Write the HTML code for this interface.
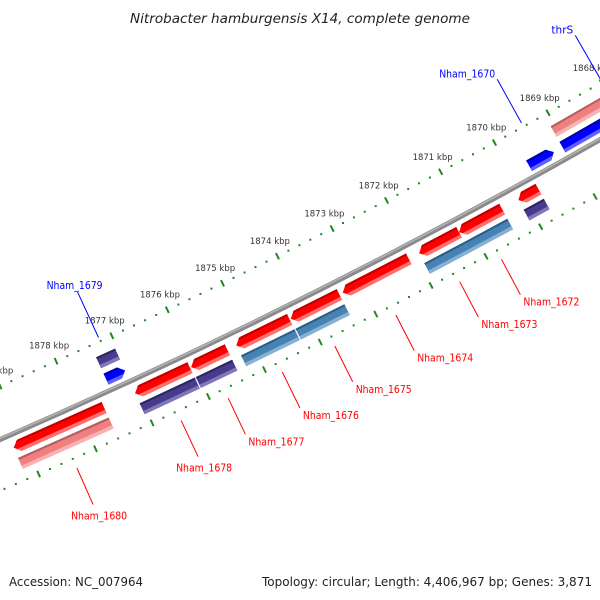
<!DOCTYPE html>
<html><head><meta charset="utf-8"><title>Nitrobacter hamburgensis X14 genome map</title>
<style>
html,body{margin:0;padding:0;background:#fff;}
svg{display:block;}
text{font-family:"DejaVu Sans","Liberation Sans",sans-serif;}
</style></head>
<body>
<svg id="map" xmlns="http://www.w3.org/2000/svg" width="600" height="600" viewBox="0 0 600 600">
<rect x="0" y="0" width="600" height="600" fill="#fff"/>
<text x="300" y="23" text-anchor="middle" font-size="13" font-style="italic" fill="#222" textLength="340" lengthAdjust="spacingAndGlyphs">Nitrobacter hamburgensis X14, complete genome</text>
<g id="plot"></g>
<text x="9" y="586" font-size="12.5" fill="#222" textLength="134" lengthAdjust="spacingAndGlyphs">Accession: NC_007964</text>
<text x="592" y="586" text-anchor="end" font-size="12.5" fill="#222" textLength="330" lengthAdjust="spacingAndGlyphs">Topology: circular; Length: 4,406,967 bp; Genes: 3,871</text>
</svg>
<script>
// ---- data (kbp) ----
const geneNames  = ["Nham_1680","Nham_1679","Nham_1678","Nham_1677","Nham_1676","Nham_1675","Nham_1674","Nham_1673","Nham_1672","Nham_1671","Nham_1670","thrS"];
const geneStart  = [1877.60,1877.04,1876.07,1875.40,1874.28,1873.38,1872.12,1871.20,1870.41,1869.74,1869.23,1866.90];
const geneEnd    = [1879.20,1877.38,1877.05,1876.05,1875.24,1874.26,1873.32,1871.93,1871.20,1870.11,1869.69,1869.07];
const geneStrand = [-1,1,-1,-1,-1,-1,-1,-1,-1,-1,1,1];
const geneCog    = ["pink","purple","purple","purple","steel","steel","none","steel","steel","purple","none","pink"];
const geneLabelStyle = ["below-center","above-center","below-center","below-left","below-left","below-left","below-left","below-left","below-left","none","above-end","above-end"];
const tickKbp    = [1866,1867,1868,1869,1870,1871,1872,1873,1874,1875,1876,1877,1878,1879,1880,1881];
const tickLabels = ["1866 kbp","1867 kbp","1868 kbp","1869 kbp","1870 kbp","1871 kbp","1872 kbp","1873 kbp","1874 kbp","1875 kbp","1876 kbp","1877 kbp","1878 kbp","1879 kbp","1880 kbp","1881 kbp"];

// ---- geometry ----
const CX=-2490, CY=-5293, R=6250;
const PHI0=61.23, DEG_PER_KBP=0.566, REF=1870;
function phi(k){return (PHI0+(k-REF)*DEG_PER_KBP)*Math.PI/180;}
function pt(k,r){const a=phi(k);return [CX+r*Math.cos(a),CY+r*Math.sin(a)];}
const COL={
  red:{d:"#c00000",m:"#ff0000",l:"#ff7070"},
  blue:{d:"#0000a8",m:"#0000ff",l:"#6060ff"},
  purple:{d:"#2c2462",m:"#473c8b",l:"#8077bb"},
  steel:{d:"#2d5c84",m:"#4682b4",l:"#86b0d4"},
  pink:{d:"#b45e5e",m:"#f08080",l:"#f7b2b2"}
};
const plot=document.getElementById('plot');
const NS="http://www.w3.org/2000/svg";
function mk(tag,attrs,parent){const e=document.createElementNS(NS,tag);for(const k in attrs)e.setAttribute(k,attrs[k]);(parent||plot).appendChild(e);return e;}
function arcPath(k1,k2,r){const p1=pt(k1,r),p2=pt(k2,r);return "M"+p1[0].toFixed(2)+","+p1[1].toFixed(2)+" A"+r+","+r+" 0 0 1 "+p2[0].toFixed(2)+","+p2[1].toFixed(2);}

// backbone
const bb=mk('path',{d:arcPath(1865,1882,R),stroke:"#8a8a8a","stroke-width":5,fill:"none"});


const bbh=mk('path',{d:arcPath(1865,1882,R-1),stroke:"#b4b4b4","stroke-width":1.5,fill:"none"});



// rulers
const RULER_IN=6201, RULER_OUT=6297;
[RULER_IN,RULER_OUT].forEach((rr,ri)=>{
  const g=mk('g',{});
  
  
  for(let i=0;i<tickKbp.length-1;i++){
    for(let j=0;j<5;j++){
      const k=tickKbp[i]+j*0.2;
      if(j===0){
        const a=pt(k,rr-3.5),b=pt(k,rr+3.5);
        const t=mk('line',{x1:a[0],y1:a[1],x2:b[0],y2:b[1],stroke:"#1e8a1e","stroke-width":2},g);
        
        
      }else{
        const p=pt(k,rr);
        const d=mk('rect',{x:p[0]-1,y:p[1]-1,width:2,height:2,fill:"#1e8a1e"},g);
        
        
      }
    }
  }
});
tickKbp.forEach((k,i)=>{
  const p=pt(k,6184);
  const t=mk('text',{x:p[0].toFixed(1),y:(p[1]+3).toFixed(1),"text-anchor":"middle","font-size":"8.5",fill:"#333"});
  t.textContent=tickLabels[i];
  
  
});

// features
const T=12, AH=0.1;
function bandPoly(a,b,dir,rc,rLo,rHi,arrow){
  // a<b kbp; dir -1 => tip at b (higher kbp), +1 => tip at a
  const half=T/2;
  const rs=[rLo];
  if(rc>rLo&&rc<rHi)rs.push(rc);
  rs.push(rHi);
  function tipExt(r){
    if(!arrow)return 0;
    const f=Math.max(0,1-Math.abs(r-rc)/half);
    return AH*f;
  }
  const fixedSide=[],tipSide=[];
  rs.forEach(r=>{
    if(dir<0){const bodyEnd=b-(arrow?AH:0);fixedSide.push(pt(a,r));tipSide.push(pt(bodyEnd+tipExt(r),r));}
    else{const bodyEnd=a+(arrow?AH:0);fixedSide.push(pt(b,r));tipSide.push(pt(bodyEnd-tipExt(r),r));}
  });
  const pts=fixedSide.concat(tipSide.reverse());
  return pts.map(p=>p[0].toFixed(2)+","+p[1].toFixed(2)).join(" ");
}
function drawFeature(g,a,b,dir,rc,col,arrow,name){
  const lo=rc-T/2, hi=rc+T/2;
  const layers=[[lo,hi,col.m],[lo,lo+2,col.d],[hi-3.5,hi,col.l]];
  layers.forEach((L,li)=>{
    const p=mk('polygon',{points:bandPoly(a,b,dir,rc,L[0],L[1],arrow),fill:L[2]},g);
    
    
  });
}
const ROW_UP_NEAR=R-12, ROW_UP_FAR=R-30, ROW_DN_NEAR=R+13, ROW_DN_FAR=R+30;
geneNames.forEach((nm,i)=>{
  const g=mk('g',{});
  
  
  const a=geneStart[i], b=geneEnd[i], s=geneStrand[i];
  const near=s>0?ROW_UP_NEAR:ROW_DN_NEAR, far=s>0?ROW_UP_FAR:ROW_DN_FAR;
  drawFeature(g,a,b,s,near,s>0?COL.blue:COL.red,true,'cds-arrow');
  if(geneCog[i]!=="none") drawFeature(g,a,b,s,far,COL[geneCog[i]],false,'cog-bar');
  // label
  const st=geneLabelStyle[i];
  if(st==="none")return;
  const mid=(a+b)/2;
  const color=s>0?"#0000ff":"#ff0000";
  let p1,p2;
  if(s>0){p1=pt(mid,R-53);p2=pt(mid,R-103);}else{p1=pt(mid,R+57);p2=pt(mid,R+97);}
  const ln=mk('line',{x1:p1[0].toFixed(1),y1:p1[1].toFixed(1),x2:p2[0].toFixed(1),y2:p2[1].toFixed(1),stroke:color,"stroke-width":1},g);
  
  
  let tx,ty,anchor="start";
  if(st==="below-center"){tx=p2[0]+6;ty=p2[1]+15;anchor="middle";}
  else if(st==="below-left"){tx=p2[0]+3;ty=p2[1]+11;}
  else if(st==="above-center"){tx=p2[0]-3;ty=p2[1]-3;anchor="middle";}
  else {tx=p2[0]-2;ty=p2[1]-2;anchor="end";}
  const t=mk('text',{x:tx.toFixed(1),y:ty.toFixed(1),"text-anchor":anchor,"font-size":"10.5",fill:color},g);
  t.textContent=nm;
  if(nm.length>5){t.setAttribute('textLength','56');t.setAttribute('lengthAdjust','spacingAndGlyphs');}
  
  
});
</script>
</body></html>
